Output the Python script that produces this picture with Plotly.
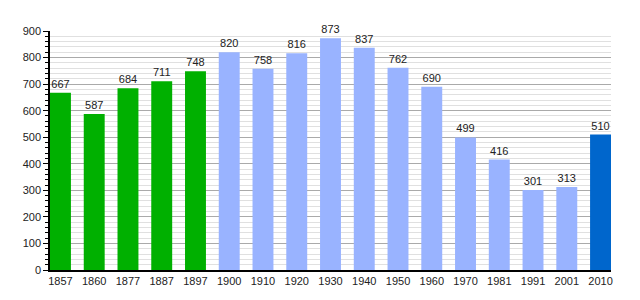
import plotly.graph_objects as go

years = ["1857", "1860", "1877", "1887", "1897", "1900", "1910", "1920", "1930",
         "1940", "1950", "1960", "1970", "1981", "1991", "2001", "2010"]
population = [667, 587, 684, 711, 748, 820, 758, 816, 873, 837, 762, 690, 499, 416, 301, 313, 510]
groups = ["a"] * 5 + ["b"] * 11 + ["c"]
palette = {"a": "#00b000", "b": "#99b3ff", "c": "#0066cc"}
colors = [palette[g] for g in groups]
bw = 0.62

fig = go.Figure(go.Bar(
    x=years, y=population, marker_color=colors, marker_line_width=0,
    width=bw, text=[str(v) for v in population], textposition="outside",
    textfont=dict(size=11, color="#222", family="Liberation Sans, Arial"),
    cliponaxis=False,
))
fig.update_layout(
    width=640, height=300, margin=dict(l=50, r=29, t=31, b=30),
    paper_bgcolor="white", plot_bgcolor="white", showlegend=False,
    font=dict(family="Liberation Sans, Arial", size=11, color="#222"),
)
fig.update_xaxes(type="category", range=[-bw / 2, len(years) - 1 + bw / 2],
                 showline=True, linecolor="black", linewidth=1.5, ticks="",
                 showgrid=False, tickfont=dict(size=11))
fig.update_yaxes(range=[0, 900], dtick=100, showline=True, linecolor="black", linewidth=1.5,
                 ticks="outside", ticklen=5, tickcolor="black", gridcolor="#aaaaaa", gridwidth=1,
                 zeroline=False, tickfont=dict(size=11),
                 minor=dict(dtick=20, showgrid=True, gridcolor="#e0e0e0", ticks="outside",
                            ticklen=3, tickcolor="black"))
fig.write_html("out.html")
